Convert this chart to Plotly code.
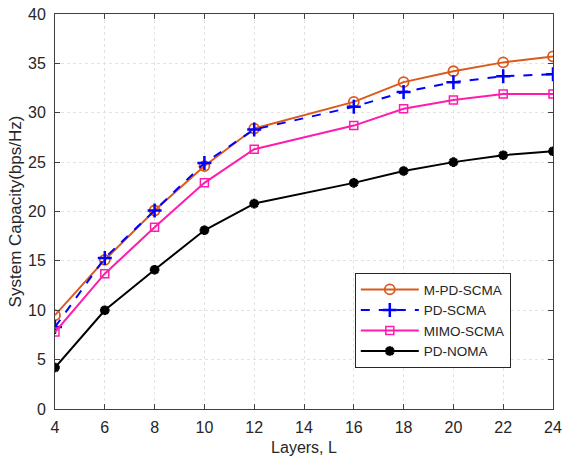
import plotly.graph_objects as go

layers = [4, 6, 8, 10, 12, 16, 18, 20, 22, 24]
m_pd_scma = [9.5, 15.1, 20.1, 24.6, 28.4, 31.1, 33.1, 34.2, 35.1, 35.7]
pd_scma = [8.3, 15.3, 20.1, 24.9, 28.3, 30.6, 32.1, 33.1, 33.7, 33.9]
mimo_scma = [7.8, 13.7, 18.4, 22.9, 26.3, 28.7, 30.4, 31.3, 31.9, 31.9]
pd_noma = [4.2, 10.0, 14.1, 18.1, 20.8, 22.9, 24.1, 25.0, 25.7, 26.1]

x_ticks = [4, 6, 8, 10, 12, 14, 16, 18, 20, 22, 24]
y_ticks = [0, 5, 10, 15, 20, 25, 30, 35, 40]

FONT = "Liberation Sans, Arial"
TXT = "#262626"

fig = go.Figure()
fig.add_trace(go.Scatter(x=layers, y=m_pd_scma, name="M-PD-SCMA", mode="lines+markers",
                         line=dict(color="#DA5A1E", width=2),
                         marker=dict(symbol="circle-open", size=10, color="#DA5A1E", line=dict(width=1.8, color="#DA5A1E"))))
fig.add_trace(go.Scatter(x=layers, y=pd_scma, name="PD-SCMA", mode="lines+markers",
                         line=dict(color="#0000FF", width=2, dash="dash"),
                         marker=dict(symbol="cross-thin-open", size=10, color="#0000FF", line=dict(width=2.5, color="#0000FF"))))
fig.add_trace(go.Scatter(x=layers, y=mimo_scma, name="MIMO-SCMA", mode="lines+markers",
                         line=dict(color="#FF1CAC", width=2),
                         marker=dict(symbol="square-open", size=8, color="#FF1CAC", line=dict(width=1.5, color="#FF1CAC"))))
fig.add_trace(go.Scatter(x=layers, y=pd_noma, name="PD-NOMA", mode="lines+markers",
                         line=dict(color="#000000", width=2),
                         marker=dict(symbol="asterisk-open", size=8, color="#000000", line=dict(width=3, color="#000000"))))

axis_common = dict(showline=True, linecolor="#404040", linewidth=1, mirror="ticks",
                   ticks="inside", ticklen=5, tickcolor="#404040", automargin=False,
                   showgrid=True, gridcolor="#e3e3e3", griddash="dot", gridwidth=1,
                   zeroline=False, tickfont=dict(family=FONT, size=16, color=TXT))

fig.update_xaxes(range=[4, 24], tickvals=x_ticks, **axis_common, ticklabelstandoff=4,
                 title=dict(text="Layers, L", font=dict(family=FONT, size=16, color=TXT), standoff=6))
fig.update_yaxes(range=[0, 40], tickvals=y_ticks, **axis_common, ticklabelstandoff=5,
                 title=dict(text="System Capacity(bps/Hz)", font=dict(family=FONT, size=17, color=TXT), standoff=2))

fig.update_layout(
    width=563, height=461,
    margin=dict(l=55, r=10, t=14, b=52),
    paper_bgcolor="white", plot_bgcolor="white",
    font=dict(family=FONT, color=TXT),
    legend=dict(x=0.602, y=0.344, xanchor="left", yanchor="top",
                bgcolor="white", bordercolor="#262626", borderwidth=1,
                font=dict(family=FONT, size=13.5, color=TXT), tracegroupgap=0, itemwidth=58),
    showlegend=True,
)

fig.write_html("out.html")
